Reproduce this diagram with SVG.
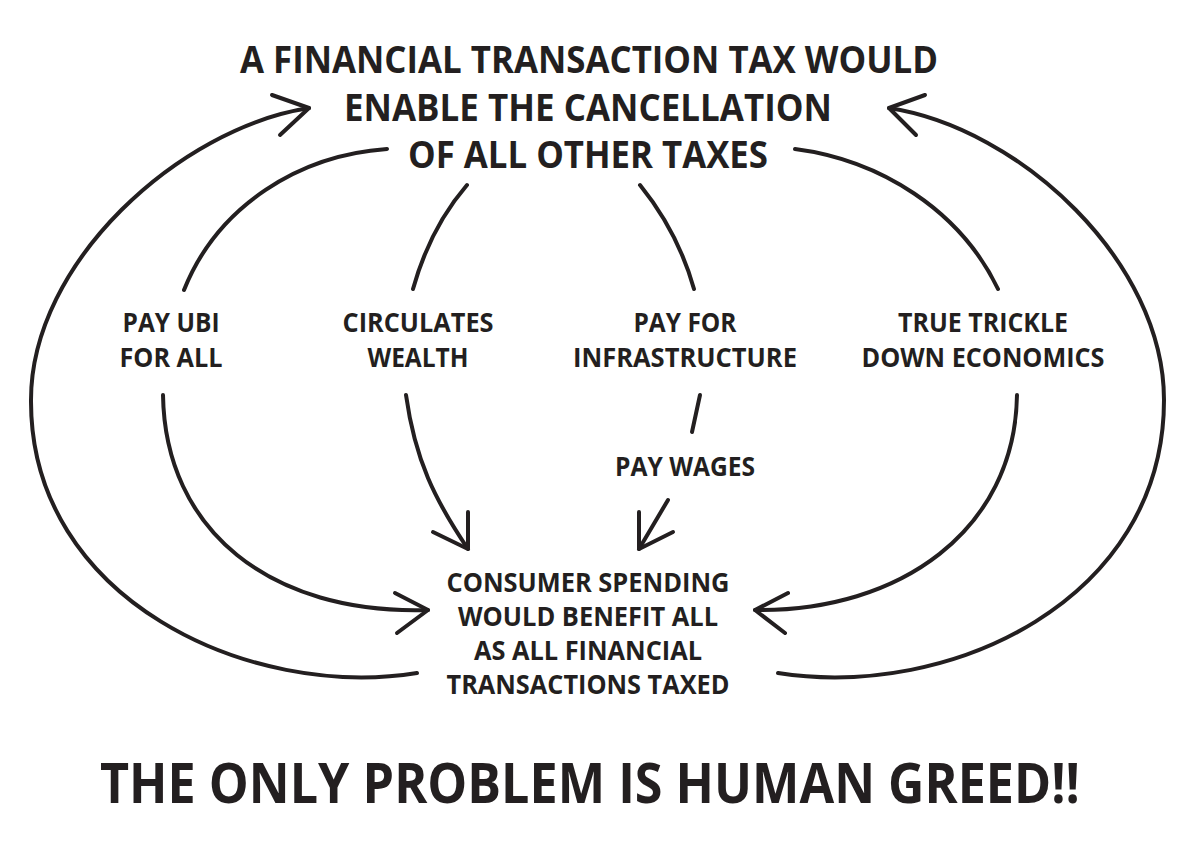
<svg xmlns="http://www.w3.org/2000/svg" width="1200" height="849" viewBox="0 0 1200 849">
<style>
  text { font-family: "Open Sans", "Liberation Sans", sans-serif; font-weight: 700; fill: #231f20; text-anchor: middle; }
  .title { font-size: 37px; }
  .label { font-size: 26px; }
  .big { font-size: 56px; }
  .wire { fill: none; stroke: #231f20; stroke-width: 4; stroke-linecap: round; stroke-linejoin: round; }
</style>
<rect width="1200" height="849" fill="#ffffff"/>

<g id="connectors">
  <!-- outer left loop: consumer -> title -->
  <path class="wire" d="M417,673 C250,700 30,600 31,400 C31,262 180,128 309,108"/>
  <path class="wire" d="M272,95 L309,108 L280,135"/>
  <!-- outer right loop: consumer -> title -->
  <path class="wire" d="M778,673 C950,700 1164,600 1164,400 C1164,262 1020,128 889,108"/>
  <path class="wire" d="M925,95 L889,108 L916,135"/>
  <!-- title -> pay ubi -->
  <path class="wire" d="M387,149 C300,155 218,205 184,290"/>
  <!-- title -> circulates -->
  <path class="wire" d="M467,185 Q430,228 413,289"/>
  <!-- title -> pay for infrastructure -->
  <path class="wire" d="M640,185 Q678,232 694,289"/>
  <!-- title -> trickle down -->
  <path class="wire" d="M795,149 C880,160 960,210 998,289"/>
  <!-- pay ubi -> consumer -->
  <path class="wire" d="M163,395 C165,530 270,615 428,610"/>
  <path class="wire" d="M395,593 L428,610 L397,633"/>
  <!-- circulates -> consumer -->
  <path class="wire" d="M406,395 C415,460 435,500 468,549"/>
  <path class="wire" d="M433,532 L468,549 L468,512"/>
  <!-- infrastructure -> pay wages -->
  <path class="wire" d="M700,395 L692,432"/>
  <!-- pay wages -> consumer -->
  <path class="wire" d="M668,500 L639,549"/>
  <path class="wire" d="M639,512 L639,549 L673,532"/>
  <!-- trickle -> consumer -->
  <path class="wire" d="M1017,395 C1015,530 900,612 755,610"/>
  <path class="wire" d="M788,593 L755,610 L785,633"/>
</g>

<g id="title">
  <text class="title" x="589" y="73" textLength="698" lengthAdjust="spacingAndGlyphs">A FINANCIAL TRANSACTION TAX WOULD</text>
  <text class="title" x="588" y="121" textLength="488" lengthAdjust="spacingAndGlyphs">ENABLE THE CANCELLATION</text>
  <text class="title" x="588" y="168" textLength="360" lengthAdjust="spacingAndGlyphs">OF ALL OTHER TAXES</text>
</g>

<g id="pay-ubi">
  <text class="label" x="171" y="332" textLength="97" lengthAdjust="spacingAndGlyphs">PAY UBI</text>
  <text class="label" x="171" y="367" textLength="103" lengthAdjust="spacingAndGlyphs">FOR ALL</text>
</g>

<g id="circulates">
  <text class="label" x="418" y="332" textLength="151" lengthAdjust="spacingAndGlyphs">CIRCULATES</text>
  <text class="label" x="418" y="367" textLength="101" lengthAdjust="spacingAndGlyphs">WEALTH</text>
</g>

<g id="infrastructure">
  <text class="label" x="685" y="332" textLength="103" lengthAdjust="spacingAndGlyphs">PAY FOR</text>
  <text class="label" x="685" y="367" textLength="224" lengthAdjust="spacingAndGlyphs">INFRASTRUCTURE</text>
</g>

<g id="trickle">
  <text class="label" x="983" y="332" textLength="170" lengthAdjust="spacingAndGlyphs">TRUE TRICKLE</text>
  <text class="label" x="983" y="367" textLength="243" lengthAdjust="spacingAndGlyphs">DOWN ECONOMICS</text>
</g>

<g id="pay-wages">
  <text class="label" x="685" y="476" textLength="140" lengthAdjust="spacingAndGlyphs">PAY WAGES</text>
</g>

<g id="consumer">
  <text class="label" x="588" y="592" textLength="283" lengthAdjust="spacingAndGlyphs">CONSUMER SPENDING</text>
  <text class="label" x="588" y="626" textLength="260" lengthAdjust="spacingAndGlyphs">WOULD BENEFIT ALL</text>
  <text class="label" x="588" y="660" textLength="228" lengthAdjust="spacingAndGlyphs">AS ALL FINANCIAL</text>
  <text class="label" x="588" y="694" textLength="283" lengthAdjust="spacingAndGlyphs">TRANSACTIONS TAXED</text>
</g>

<g id="footer">
  <text class="big" x="590" y="803" textLength="980" lengthAdjust="spacingAndGlyphs">THE ONLY PROBLEM IS HUMAN GREED!!</text>
</g>
</svg>
